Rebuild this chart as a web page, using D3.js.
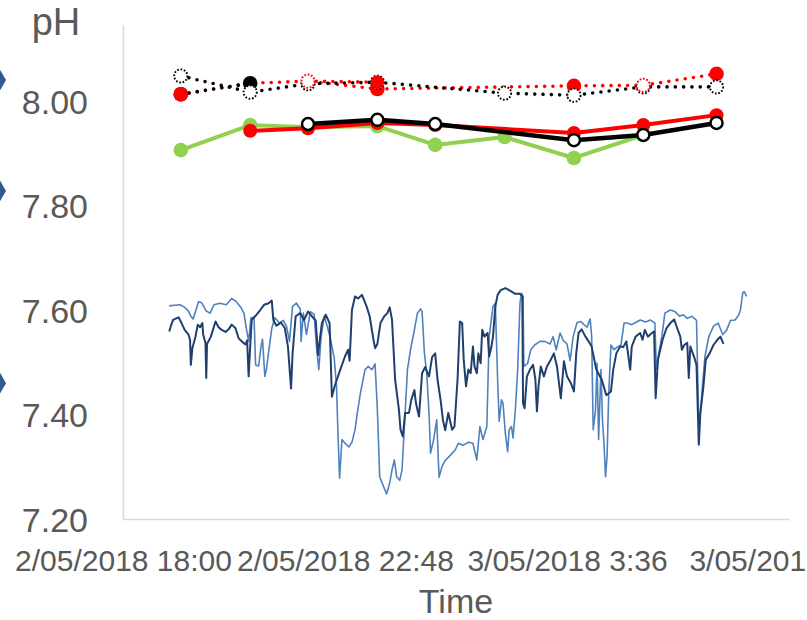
<!DOCTYPE html>
<html>
<head>
<meta charset="utf-8">
<script src="https://cdnjs.cloudflare.com/ajax/libs/d3/7.8.5/d3.min.js"></script>
<style>
  body { margin: 0; background: #fff; }
  svg text { font-family: "Liberation Sans", Arial, sans-serif; fill: #595959; }
</style>
</head>
<body>
<svg id="chart" width="807" height="620"></svg>
<script>
// sample times for the discrete pH measurements
var sampleTimes = ["02/05/2018 19:15", "02/05/2018 20:45", "02/05/2018 22:00", "02/05/2018 23:30",
  "03/05/2018 00:45", "03/05/2018 02:15", "03/05/2018 03:45", "03/05/2018 05:15", "03/05/2018 06:50"];

// solid lines
var greenPH = [7.906, 7.954, 7.950, 7.952, 7.916, 7.931, 7.891, 7.935, null];
var redPH   = [null, 7.943, 7.948, 7.958, 7.954, null, 7.939, 7.954, 7.973];
var blackPH = [null, null, 7.956, 7.964, 7.956, null, 7.925, 7.935, 7.958];

// dotted lines
var blackDotPH  = [8.048, 8.017, 8.033, 8.036, null, 8.015, 8.011, 8.027, 8.027];
var blackDot2PH = [8.013, 8.034, null, null, null, null, null, null, null];
var redDotPH    = [8.013, 8.034, 8.038, 8.023, null, null, 8.029, 8.030, 8.052];
var redDot2PH   = [null, null, 8.038, 8.036, null, null, null, null, null];
var redOpenPH    = [null, null, 8.038, null, null, null, null, 8.030, null];
var redFilledPH  = [8.013, null, null, 8.023, null, null, 8.029, null, 8.052];
var redFilled2PH = [null, null, null, 8.036, null, null, null, null, null];

// continuous sensors: [minutes after 2/05/2018 18:00, pH]
var sensorLight = [[60,7.608],[67,7.609],[74,7.610],[80,7.605],[85,7.598],[88,7.588],[91,7.583],[98,7.616],[102,7.614],
  [108,7.598],[113,7.594],[118,7.610],[126,7.613],[134,7.610],[141,7.622],[147,7.616],[153,7.605],[157,7.593],[160,7.565],
  [163,7.540],[166,7.585],[170,7.586],[172,7.495],[176,7.493],[179,7.530],[181,7.544],[184,7.473],[186,7.486],[189,7.521],
  [193,7.565],[197,7.585],[203,7.575],[208,7.580],[212,7.569],[216,7.540],[220,7.607],[225,7.613],[230,7.602],[231,7.540],
  [234,7.594],[238,7.553],[243,7.597],[248,7.591],[251,7.530],[254,7.486],[257,7.549],[261,7.588],[265,7.569],[269,7.546],
  [274,7.508],[277,7.454],[279,7.358],[281,7.278],[284,7.352],[288,7.345],[293,7.338],[297,7.347],[301,7.371],[304,7.403],
  [308,7.441],[314,7.486],[318,7.492],[323,7.486],[327,7.497],[330,7.409],[333,7.281],[338,7.262],[342,7.248],[346,7.269],
  [349,7.294],[352,7.313],[355,7.281],[359,7.274],[362,7.294],[366,7.403],[369,7.486],[373,7.524],[378,7.562],[382,7.594],
  [386,7.602],[388,7.597],[391,7.518],[394,7.479],[397,7.403],[399,7.326],[403,7.352],[407,7.390],[410,7.280],[414,7.301],
  [418,7.312],[422,7.318],[427,7.326],[431,7.332],[435,7.345],[441,7.341],[448,7.347],[454,7.345],[459,7.313],[463,7.377],
  [467,7.352],[472,7.377],[475,7.549],[480,7.607],[483,7.613],[486,7.467],[488,7.387],[491,7.428],[493,7.422],[496,7.364],
  [499,7.329],[501,7.371],[504,7.377],[506,7.355],[509,7.409],[512,7.486],[515,7.613],[517,7.632],[519,7.626],[520,7.492],
  [525,7.498],[529,7.524],[534,7.533],[541,7.540],[547,7.540],[554,7.535],[558,7.549],[562,7.524],[567,7.556],[571,7.542],
  [576,7.535],[580,7.503],[584,7.549],[589,7.576],[594,7.578],[598,7.572],[602,7.567],[606,7.583],[608,7.549],[610,7.371],
  [613,7.409],[615,7.498],[617,7.352],[620,7.486],[622,7.390],[624,7.345],[626,7.281],[628,7.320],[630,7.434],[633,7.533],
  [637,7.524],[641,7.529],[646,7.533],[650,7.575],[654,7.575],[660,7.572],[665,7.576],[671,7.581],[678,7.577],[684,7.581],
  [690,7.575],[692,7.486],[695,7.517],[699,7.549],[703,7.594],[710,7.600],[716,7.597],[722,7.588],[727,7.591],[732,7.584],
  [738,7.588],[744,7.580],[747,7.377],[749,7.403],[752,7.460],[755,7.511],[760,7.549],[766,7.569],[772,7.575],[778,7.553],
  [783,7.561],[788,7.580],[794,7.581],[799,7.591],[801,7.600],[804,7.633],[806,7.635],[809,7.626]];

var sensorDark = [[60,7.559],[62,7.569],[65,7.581],[72,7.586],[76,7.575],[80,7.562],[85,7.553],[87,7.542],[88,7.495],
  [90,7.527],[94,7.549],[97,7.572],[100,7.567],[103,7.575],[104,7.553],[107,7.537],[108,7.470],[109,7.535],[114,7.549],
  [120,7.578],[124,7.567],[128,7.562],[133,7.558],[137,7.563],[141,7.572],[146,7.565],[150,7.546],[154,7.540],[159,7.534],
  [161,7.542],[163,7.473],[165,7.530],[167,7.581],[172,7.589],[178,7.600],[183,7.610],[189,7.613],[193,7.618],[195,7.581],
  [199,7.570],[205,7.576],[210,7.565],[214,7.530],[218,7.450],[220,7.517],[224,7.588],[230,7.594],[235,7.581],[240,7.597],
  [245,7.588],[250,7.580],[253,7.514],[258,7.575],[263,7.591],[268,7.575],[271,7.434],[275,7.456],[281,7.482],[288,7.511],
  [292,7.524],[294,7.503],[297,7.600],[301,7.626],[305,7.622],[310,7.629],[316,7.607],[320,7.588],[325,7.543],[327,7.527],
  [330,7.535],[334,7.575],[339,7.588],[343,7.594],[346,7.605],[349,7.581],[353,7.467],[358,7.409],[360,7.371],[363,7.358],
  [366,7.403],[371,7.403],[374,7.428],[378,7.447],[380,7.422],[384,7.396],[388,7.479],[392,7.491],[397,7.473],[401,7.510],
  [405,7.517],[408,7.467],[412,7.428],[415,7.390],[418,7.370],[422,7.403],[427,7.371],[430,7.377],[434,7.467],[437,7.578],
  [440,7.575],[442,7.505],[445,7.454],[448,7.486],[451,7.479],[454,7.530],[456,7.492],[459,7.479],[461,7.517],[464,7.498],
  [466,7.562],[469,7.549],[473,7.556],[475,7.511],[478,7.530],[480,7.549],[483,7.607],[486,7.629],[490,7.638],[496,7.642],
  [502,7.637],[509,7.631],[515,7.631],[518,7.626],[519,7.421],[521,7.412],[524,7.473],[528,7.486],[532,7.495],[535,7.467],
  [537,7.406],[539,7.454],[542,7.492],[546,7.473],[550,7.492],[555,7.505],[559,7.517],[563,7.492],[568,7.431],[572,7.502],
  [576,7.473],[581,7.460],[585,7.444],[588,7.517],[591,7.556],[595,7.563],[600,7.549],[604,7.540],[608,7.530],[614,7.486],
  [621,7.467],[627,7.437],[633,7.444],[636,7.486],[640,7.517],[645,7.530],[649,7.529],[653,7.540],[658,7.486],[660,7.530],
  [665,7.549],[671,7.556],[674,7.543],[677,7.562],[681,7.549],[686,7.556],[689,7.559],[691,7.431],[694,7.505],[700,7.543],
  [705,7.565],[710,7.575],[715,7.582],[719,7.565],[723,7.549],[725,7.524],[728,7.533],[732,7.537],[734,7.470],[736,7.530],
  [741,7.510],[744,7.495],[747,7.342],[749,7.403],[753,7.454],[756,7.505],[761,7.517],[766,7.533],[771,7.543],[775,7.549],
  [779,7.535]];

// markers of a series sitting just off the left edge
var edgePH = [8.040, 7.828, 7.460];

var yTicks = [7.2, 7.4, 7.6, 7.8, 8.0];

var parseTime = d3.timeParse("%d/%m/%Y %H:%M");
var start = parseTime("02/05/2018 18:00");
var tickStepMin = 288;   // 4.8 h between labels
var xTicks = d3.range(4).map(function(i){ return d3.timeMinute.offset(start, i * tickStepMin); });

var svg = d3.select("#chart");
svg.append("rect").attr("width", 807).attr("height", 620).attr("fill", "#fff");

var x = d3.scaleTime()
    .domain([start, xTicks[3]])
    .range([123, 789]);

var y = d3.scaleLinear()
    .domain([7.2, 8.1455])
    .range([519, 25]);

function toPts(vals){
  var out = [];
  vals.forEach(function(v, i){ if (v != null) out.push({t: parseTime(sampleTimes[i]), v: v}); });
  return out;
}
function sensorPts(arr){
  return arr.map(function(d){ return {t: d3.timeMinute.offset(start, d[0]), v: d[1]}; });
}

var line = d3.line()
    .x(function(d){ return x(d.t); })
    .y(function(d){ return y(d.v); });

// axes
var yAxis = d3.axisLeft(y)
    .tickValues(yTicks)
    .tickFormat(d3.format(".2f"))
    .tickSize(0)
    .tickSizeOuter(0)
    .tickPadding(35);

var gy = svg.append("g").attr("transform", "translate(123,0)").call(yAxis);
gy.select(".domain").attr("stroke", "#d9d9d9").attr("stroke-width", 1.5);
gy.selectAll("text").style("font-size", "34px").attr("dy", "0.36em");

var xAxis = d3.axisBottom(x)
    .tickValues(xTicks)
    .tickFormat(d3.timeFormat("%-d/%m/%Y %-H:%M"))
    .tickSize(0)
    .tickSizeOuter(0)
    .tickPadding(31);

var gx = svg.append("g").attr("transform", "translate(0,519)").call(xAxis);
gx.select(".domain").attr("stroke", "#d9d9d9").attr("stroke-width", 1.5);
gx.selectAll("text").style("font-size", "30px");

svg.append("text").attr("x", 456).attr("y", 613).attr("text-anchor", "middle")
  .style("font-size", "34px").text("Time");
svg.append("text").attr("x", 56).attr("y", 35).attr("text-anchor", "middle")
  .style("font-size", "38px").text("pH");

// off-edge diamonds
svg.selectAll(".edge").data(edgePH).enter().append("path")
  .attr("class", "edge")
  .attr("d", d3.symbol().type(d3.symbolDiamond).size(170))
  .attr("transform", function(d){ return "translate(-1," + y(d) + ")"; })
  .attr("fill", "#2f5a8e");

// sensors
svg.append("path").datum(sensorPts(sensorLight))
  .attr("d", line).attr("fill", "none").attr("stroke", "#4f81bd").attr("stroke-width", 1.6)
  .attr("stroke-linejoin", "round");
svg.append("path").datum(sensorPts(sensorDark))
  .attr("d", line).attr("fill", "none").attr("stroke", "#203f6e").attr("stroke-width", 2)
  .attr("stroke-linejoin", "round");

function drawLine(vals, color, width, dotted){
  var p = svg.append("path").datum(toPts(vals))
    .attr("d", line).attr("fill", "none")
    .attr("stroke", color).attr("stroke-width", width)
    .attr("stroke-linejoin", "round");
  if (dotted) p.attr("stroke-dasharray", "0 8.3").attr("stroke-linecap", "round");
}

function drawMarkers(vals, r, fill, stroke, strokeW, dash){
  var g = svg.append("g");
  g.selectAll("circle").data(toPts(vals)).enter().append("circle")
    .attr("cx", function(d){ return x(d.t); })
    .attr("cy", function(d){ return y(d.v); })
    .attr("r", r)
    .attr("fill", fill)
    .attr("stroke", stroke || "none")
    .attr("stroke-width", strokeW || 0)
    .attr("stroke-dasharray", dash || null);
}

// solid lines
drawLine(greenPH, "#92d050", 4, false);
drawMarkers(greenPH, 7.3, "#92d050");
drawLine(redPH, "#ff0000", 4, false);
drawMarkers(redPH, 7, "#ff0000");
drawLine(blackPH, "#000", 4.5, false);
drawMarkers(blackPH, 6, "#fff", "#000", 2.5);

// dotted lines
drawLine(redDotPH, "#ff0000", 3.6, true);
drawLine(redDot2PH, "#ff0000", 3.6, true);
drawLine(blackDot2PH, "#000", 3.6, true);
drawLine(blackDotPH, "#000", 3.6, true);
drawMarkers(blackDot2PH, 7.3, "#000");
drawMarkers(redFilledPH, 7.3, "#ff0000");
drawMarkers(blackDotPH, 6.6, "#fff", "#000", 1.9, "1.7 1.7");
drawMarkers(redOpenPH, 6.6, "#fff", "#ff0000", 1.9, "1.7 1.7");
drawMarkers(redFilled2PH, 6.8, "#ff0000");
</script>
</body>
</html>
